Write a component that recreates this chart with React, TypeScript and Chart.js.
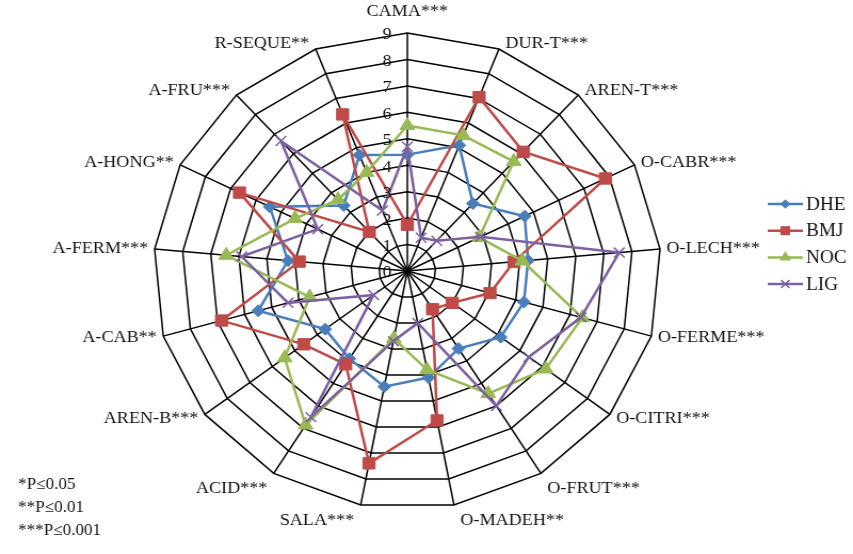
import React, { useEffect, useRef } from 'react';
import { Chart, registerables } from 'chart.js';

Chart.register(...registerables);

const categories = [
  'CAMA***', 'DUR-T***', 'AREN-T***', 'O-CABR***', 'O-LECH***', 'O-FERME***',
  'O-CITRI***', 'O-FRUT***', 'O-MADEH**', 'SALA***', 'ACID***', 'AREN-B***',
  'A-CAB**', 'A-FERM***', 'A-HONG**', 'A-FRU***', 'R-SEQUE**',
];

const dheValues = [4.4, 5.1, 3.45, 4.65, 4.3, 4.3, 4.15, 3.45, 4.1, 4.45, 3.9, 3.65, 5.5, 4.25, 5.45, 3.35, 4.7];
const bmjValues = [1.75, 7.05, 6.1, 7.85, 3.8, 3.05, 2.0, 1.7, 5.75, 7.4, 4.15, 4.6, 6.85, 3.85, 6.65, 2.0, 6.35];
const nocValues = [5.5, 5.5, 5.6, 2.85, 4.1, 6.45, 6.15, 5.45, 3.8, 2.6, 6.85, 5.45, 3.6, 6.45, 4.45, 3.65, 4.0];
const ligValues = [4.7, 1.35, 1.55, 2.9, 7.55, 6.4, 5.4, 6.0, 2.0, 2.7, 6.5, 1.5, 4.4, 5.9, 3.55, 6.65, 2.45];

const seriesNames = ['DHE', 'BMJ', 'NOC', 'LIG'];
const tickValues = [0, 1, 2, 3, 4, 5, 6, 7, 8, 9];
const tickLabels = ['0', '1', '2', '3', '4', '5', '6', '7', '8', '9'];
const footnotes = ['*P\u22640.05', '**P\u22640.01', '***P\u22640.001'];

const SERIF = '"Liberation Serif", "DejaVu Serif", serif';

function drawMarker(ctx: CanvasRenderingContext2D, style: string, x: number, y: number, r: number, color: string) {
  ctx.save();
  ctx.fillStyle = color;
  ctx.strokeStyle = color;
  ctx.lineWidth = 1.5;
  ctx.beginPath();
  if (style === 'rectRot') {
    ctx.moveTo(x, y - r);
    ctx.lineTo(x + r, y);
    ctx.lineTo(x, y + r);
    ctx.lineTo(x - r, y);
    ctx.closePath();
    ctx.fill();
  } else if (style === 'rect') {
    const s = r * Math.SQRT1_2;
    ctx.rect(x - s, y - s, 2 * s, 2 * s);
    ctx.fill();
  } else if (style === 'triangle') {
    const h = r * 1.5;
    const w = r * Math.sqrt(3) / 2;
    ctx.moveTo(x, y - r);
    ctx.lineTo(x + w, y + h - r);
    ctx.lineTo(x - w, y + h - r);
    ctx.closePath();
    ctx.fill();
  } else if (style === 'crossRot') {
    const d = r * Math.SQRT1_2;
    ctx.moveTo(x - d, y - d);
    ctx.lineTo(x + d, y + d);
    ctx.moveTo(x + d, y - d);
    ctx.lineTo(x - d, y + d);
    ctx.stroke();
  }
  ctx.restore();
}

const textPlugin = {
  id: 'customText',
  afterDraw(chart: any) {
    const ctx: CanvasRenderingContext2D = chart.ctx;
    const r = chart.scales.r;
    ctx.save();

    // tick labels, left of the vertical axis
    ctx.font = `17px ${SERIF}`;
    ctx.fillStyle = '#111';
    ctx.textAlign = 'center';
    ctx.textBaseline = 'middle';
    tickValues.forEach((v, k) => {
      const p = r.getPointPositionForValue(0, v);
      ctx.fillText(tickLabels[k], p.x - 19, p.y + 2);
    });

    // category labels
    ctx.font = `17px ${SERIF}`;
    const labels: string[] = chart.data.labels;
    const n = labels.length;
    labels.forEach((lab, i) => {
      const a = (2 * Math.PI * i) / n;
      const c = Math.cos(a);
      const s = Math.sin(a);
      const p = r.getPointPosition(i, r.drawingArea);
      let align: CanvasTextAlign = 'center';
      let dx = 0;
      if (Math.abs(s) > 0.05) {
        align = s > 0 ? 'left' : 'right';
        dx = s > 0 ? 6 : -6;
      }
      const dy = -6 * c + (c > 0.97 ? -15 : c < -0.8 ? 10 : 0);
      ctx.textAlign = align;
      ctx.fillText(lab, p.x + dx, p.y + dy);
    });

    // legend
    const ds = chart.data.datasets;
    ds.forEach((d: any, k: number) => {
      const y = 204 + k * 26.7;
      ctx.strokeStyle = d.borderColor;
      ctx.lineWidth = 2.5;
      ctx.beginPath();
      ctx.moveTo(720, y);
      ctx.lineTo(753, y);
      ctx.stroke();
      drawMarker(ctx, d.pointStyle, 736.5, y, d.pointRadius * 0.8, d.pointBackgroundColor);
      ctx.fillStyle = '#111';
      ctx.textAlign = 'left';
      ctx.font = `18px ${SERIF}`;
      ctx.fillText(d.label, 756, y + 1);
    });

    // footnotes
    ctx.font = `16px ${SERIF}`;
    ctx.textAlign = 'left';
    footnotes.forEach((t, k) => {
      ctx.fillText(t, 17, 485 + k * 23);
    });
    ctx.restore();
  },
};

export default function App() {
  const ref = useRef<HTMLCanvasElement | null>(null);

  useEffect(() => {
    document.body.style.margin = '0';
    if (!ref.current) return;
    const colors = ['#4A7EBB', '#BE4B48', '#98B954', '#7D60A0'];
    const styles = ['rectRot', 'rect', 'triangle', 'crossRot'];
    const radii = [6, 8, 8, 7];
    const values = [dheValues, bmjValues, nocValues, ligValues];
    const chart = new Chart(ref.current, {
      type: 'radar',
      data: {
        labels: categories,
        datasets: seriesNames.map((name, k) => ({
          label: name,
          data: values[k],
          borderColor: colors[k],
          backgroundColor: 'transparent',
          borderWidth: 2.5,
          fill: false,
          pointStyle: styles[k] as any,
          pointRadius: radii[k],
          pointBackgroundColor: colors[k],
          pointBorderColor: colors[k],
          pointBorderWidth: k === 3 ? 1.5 : 1,
          order: 4 - k,
        })),
      },
      options: {
        responsive: false,
        animation: false,
        devicePixelRatio: 1,
        layout: { padding: { left: 144, right: 180, top: 33, bottom: 45 } },
        plugins: { legend: { display: false }, tooltip: { enabled: false } },
        elements: { line: { tension: 0 } },
        scales: {
          r: {
            min: 0,
            max: 9,
            ticks: { stepSize: 1, display: false },
            grid: { color: '#000', lineWidth: 1.5, circular: false },
            angleLines: { color: '#000', lineWidth: 1.5 },
            pointLabels: { display: false },
          },
        },
      },
      plugins: [textPlugin],
    });
    return () => chart.destroy();
  }, []);

  return (
    <canvas
      ref={ref}
      width={800}
      height={554}
      style={{ width: '853px', height: '554px', display: 'block' }}
    />
  );
}
